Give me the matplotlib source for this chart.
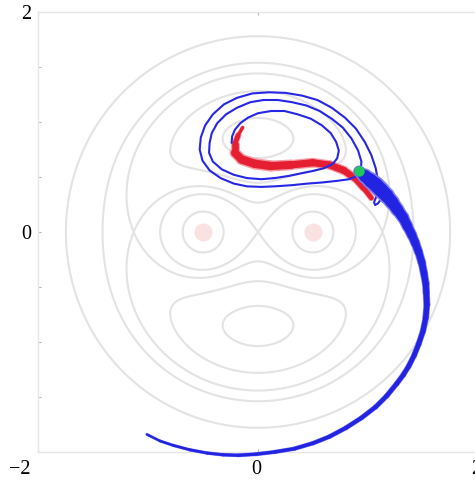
import numpy as np
import matplotlib
matplotlib.use("Agg")
import matplotlib.pyplot as plt
import matplotlib.transforms as mtransforms
from matplotlib.collections import LineCollection

# grey level curves: points (first quadrant, the field is mirror symmetric)
# the two outer rings sit on the same levels as the eye circles and the figure eight
eye_pts = [(0.69, 0.0), (0.31, 0.0), (0.5, 0.19), (1.74, 0.0), (0.0, 1.76), (1.24, 1.24)]
lobe_pts = [(0.92, 0.0), (0.5, 0.355), (1.36, 0.0), (0.0, 1.52)]
sep_pts = [(1.13, 0.0), (0.0, 0.26), (0.0, 1.45), (0.5, 0.41), (1.16, 0.73)]
kidney_pts = [(0.0, 0.46), (0.0, 1.25), (0.8, 0.74), (0.55, 0.57), (0.65, 1.1)]
oval_pts = [(0.0, 0.67), (0.0, 1.03), (0.33, 0.85)]
flat_x = [0.5, 1.13]   # radii where the profile along x is flat
flat_y = [0.85]        # radius where the profile along y is flat

wells_x = [-0.5, 0.5]
wells_y = [0.0, 0.0]

# thin blue spiral
spiral_x = [-0.24, -0.235, -0.21, -0.16, -0.09, 0.0, 0.12, 0.24, 0.36, 0.48, 0.58, 0.66, 0.71, 0.735,
            0.72, 0.68, 0.60, 0.50, 0.40, 0.28, 0.15, 0.03, -0.10, -0.22, -0.33, -0.41, -0.445, -0.44,
            -0.42, -0.37, -0.29, -0.19, -0.07, 0.05, 0.18, 0.31, 0.44, 0.56, 0.67, 0.77, 0.85, 0.91,
            0.94, 0.935, 0.90, 0.83, 0.72, 0.58, 0.45, 0.30, 0.15, 0.03, -0.10, -0.22, -0.34, -0.44,
            -0.505, -0.53, -0.52, -0.48, -0.41, -0.31, -0.19, -0.05, 0.10, 0.25, 0.40, 0.54, 0.67,
            0.79, 0.89, 0.97, 1.03, 1.07, 1.09, 1.09, 1.075, 1.055, 1.065, 1.09, 1.12, 1.16]
spiral_y = [0.81, 0.87, 0.93, 0.99, 1.04, 1.08, 1.10, 1.10, 1.07, 1.03, 0.97, 0.90, 0.82, 0.74,
            0.67, 0.62, 0.58, 0.555, 0.535, 0.51, 0.49, 0.48, 0.49, 0.52, 0.57, 0.64, 0.72, 0.81,
            0.90, 0.99, 1.07, 1.13, 1.18, 1.20, 1.20, 1.18, 1.15, 1.10, 1.03, 0.95, 0.85, 0.74,
            0.64, 0.56, 0.51, 0.48, 0.465, 0.45, 0.44, 0.425, 0.415, 0.41, 0.415, 0.44, 0.49, 0.56,
            0.65, 0.75, 0.86, 0.97, 1.07, 1.16, 1.22, 1.26, 1.27, 1.265, 1.24, 1.20, 1.13,
            1.04, 0.94, 0.82, 0.70, 0.58, 0.47, 0.39, 0.32, 0.27, 0.245, 0.26, 0.30, 0.32]

# thick blue bundle leaving the green point
bundle_x = [0.92, 0.97, 1.02, 1.07, 1.12, 1.17, 1.22, 1.27, 1.32, 1.36, 1.40, 1.43, 1.46, 1.49,
            1.51, 1.525, 1.53, 1.535, 1.525, 1.50, 1.46, 1.42, 1.37, 1.32, 1.26, 1.17, 1.07, 0.94,
            0.80, 0.65, 0.50, 0.33, 0.15, -0.02, -0.18, -0.32, -0.46, -0.62, -0.77, -0.89, -1.01]
bundle_y = [0.55, 0.51, 0.47, 0.43, 0.38, 0.33, 0.27, 0.20, 0.13, 0.05, -0.03, -0.10, -0.18, -0.28,
            -0.38, -0.47, -0.55, -0.66, -0.78, -0.90, -1.02, -1.12, -1.22, -1.30, -1.38, -1.49, -1.59,
            -1.69, -1.78, -1.86, -1.92, -1.97, -2.0, -2.02, -2.03, -2.025, -2.01, -1.98, -1.94, -1.90,
            -1.84]
bundle_w = [6, 8, 9.5, 10, 10, 9.2, 8.5, 7.7, 7, 6.5, 6, 5.6, 5.2, 4.9, 4.6, 4.4, 4.2, 4.0, 3.8,
            3.6, 3.5, 3.4, 3.3, 3.25, 3.2, 3.1, 3.0, 2.9, 2.8, 2.7, 2.6, 2.5, 2.4, 2.3, 2.2, 2.1,
            2.0, 1.9, 1.8, 1.7, 1.6]

# red band
red_x = [-0.14, -0.18, -0.21, -0.21, -0.15, -0.03, 0.12, 0.30, 0.50, 0.65, 0.78, 0.88, 0.96, 1.03]
red_y = [0.95, 0.88, 0.80, 0.72, 0.66, 0.62, 0.60, 0.61, 0.63, 0.61, 0.56, 0.49, 0.40, 0.31]
red_w = [1.5, 3.0, 4.0, 5.5, 6.0, 6.0, 6.0, 5.5, 5.0, 5.0, 5.0, 4.5, 4.0, 3.0]

start_x, start_y = 0.92, 0.55

# field model: V = (A(r) x^2 + B(r) y^2) / r^2, radial profiles A, B on a smooth basis
SIG = [0.22, 0.3, 0.4, 0.52, 0.66, 0.82, 1.0, 1.25, 1.6]


def basis(r):
    r = np.asarray(r, float)
    return np.stack([1 - np.exp(-r ** 2 / (2 * s ** 2)) for s in SIG], axis=-1)


def dbasis(r):
    r = np.asarray(r, float)
    return np.stack([r / s ** 2 * np.exp(-r ** 2 / (2 * s ** 2)) for s in SIG], axis=-1)


curves = {"lobe": lobe_pts, "sep": sep_pts, "eye": eye_pts, "kidney": kidney_pts, "oval": oval_pts}
fixed = {"lobe": 0.0, "sep": 1.0}
free = [k for k in curves if k not in fixed]
nk = len(SIG)
n = 2 * nk + len(free)
rows, rhs, wts = [], [], []


def add(row, val, w=1.0):
    rows.append(row); rhs.append(val); wts.append(w)


for name, pts in curves.items():
    for x, y in pts:
        r = np.hypot(x, y)
        c2, s2 = x * x / r ** 2, y * y / r ** 2
        row = np.zeros(n)
        row[:nk] = c2 * basis(r)
        row[nk:2 * nk] = s2 * basis(r)
        if name in fixed:
            add(row, fixed[name])
        else:
            row[2 * nk + free.index(name)] = -1.0
            add(row, 0.0)
for r in flat_x:
    row = np.zeros(n); row[:nk] = dbasis(r); add(row, 0.0, 2.0)
for r in flat_y:
    row = np.zeros(n); row[nk:2 * nk] = dbasis(r); add(row, 0.0, 2.0)
# bottom of the eye wells a bit below the eye-circle level
row = np.zeros(n); row[:nk] = basis(0.5); row[2 * nk + free.index("eye")] = -1.4; add(row, 0.0, 1.0)
# keep both profiles falling away beyond the outer ring
for r, k in [(2.2, 1.5), (2.9, 2.0)]:
    for half in (0, 1):
        row = np.zeros(n); row[half * nk:(half + 1) * nk] = basis(r)
        row[2 * nk + free.index("eye")] = -k
        add(row, 0.0, 0.5)

A_ = np.array(rows) * np.array(wts)[:, None]
b_ = np.array(rhs) * np.array(wts)
A_ = np.vstack([A_, 2e-3 * np.eye(n)])
b_ = np.concatenate([b_, np.zeros(n)])
sol = np.linalg.lstsq(A_, b_, rcond=None)[0]
ca, cb = sol[:nk], sol[nk:2 * nk]
lv = dict(fixed)
for k, name in enumerate(free):
    lv[name] = sol[2 * nk + k]


def field(x, y):
    r2 = x ** 2 + y ** 2 + 1e-12
    r = np.sqrt(r2)
    return (basis(r) @ ca * x ** 2 + basis(r) @ cb * y ** 2) / r2


# snap the saddle level onto the fitted field
sx = np.linspace(0.95, 1.4, 901)
lv["sep"] = field(sx, 0 * sx).max()

g = np.linspace(-2, 2, 500)
gx, gy = np.meshgrid(g, g)
V = field(gx, gy)


def varwidth(ax, xs, ys, ws, color, z):
    pts = np.column_stack([xs, ys])
    segs = np.stack([pts[:-1], pts[1:]], axis=1)
    w = (np.array(ws[:-1]) + np.array(ws[1:])) / 2
    lc = LineCollection(segs, linewidths=w, colors=color, capstyle="round",
                        joinstyle="round", zorder=z, clip_on=False)
    ax.add_collection(lc)


plt.rcParams["font.family"] = ["Liberation Serif", "DejaVu Serif"]
fig = plt.figure(figsize=(4.75, 4.83), dpi=100)
ax = fig.add_axes([38 / 475, 31 / 483, 440 / 475, 440 / 483])
ax.set_xlim(-2, 2)
ax.set_ylim(-2, 2)

ax.plot(wells_x, wells_y, "o", ms=13, color="#fbe2e2", mec="none", zorder=1)
ax.contour(gx, gy, V, levels=np.unique(list(lv.values())), colors="#e3e3e3",
           linewidths=1.5, linestyles="solid", zorder=2)

varwidth(ax, red_x, red_y, [w * 1.35 for w in red_w], "#f39aa2", 3)
varwidth(ax, red_x, red_y, red_w, "#e61e32", 4)
ax.plot(spiral_x, spiral_y, color="#2626e6", lw=1.5, zorder=5, solid_capstyle="round")
varwidth(ax, bundle_x, bundle_y, [w * 1.25 for w in bundle_w], "#7f7ff2", 5)
varwidth(ax, bundle_x, bundle_y, bundle_w, "#2323e2", 6)
ax.plot([start_x], [start_y], "o", ms=7.5, color="#1fc85a", mec="none", zorder=8)

for s in ax.spines.values():
    s.set_color("#e6e6e6")
    s.set_linewidth(1.0)
ax.set_xticks([-2, 0, 2])
ax.set_xticklabels(["\u22122", "0", "2"])
ax.set_yticks([0, 2])
ax.set_yticklabels(["0", "2"])
ax.set_yticks([-2, -1.5, -1, -0.5, 0.5, 1, 1.5], minor=True)
ax.tick_params(which="both", direction="in", length=2, width=0.8, color="#b5b5b5",
               labelsize=14.5, top=True)
ax.tick_params(axis="x", pad=6)
ax.tick_params(axis="y", pad=5)

shift = [-18, -2, -2]
for lab, dx in zip(ax.get_xticklabels(), shift):
    lab.set_transform(lab.get_transform() + mtransforms.ScaledTranslation(dx / 100, 0, fig.dpi_scale_trans))

fig.savefig("out.png", dpi=100, facecolor="white")
